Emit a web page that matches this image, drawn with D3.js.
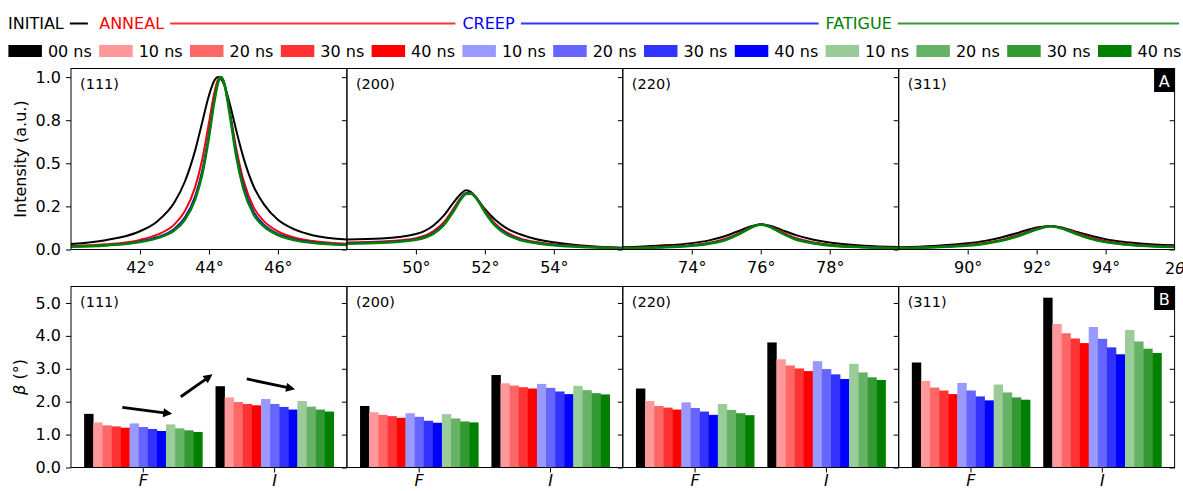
<!DOCTYPE html>
<html>
<head>
<meta charset="utf-8">
<script src="https://cdn.jsdelivr.net/npm/d3@7"></script>
<style>
body { margin: 0; background: #fff; }
svg { display: block; font-family: "DejaVu Sans", sans-serif; }
</style>
</head>
<body>
<svg id="chart" width="1183" height="491"></svg>
<script>
'use strict';

var groups = ['INITIAL', 'ANNEAL', 'CREEP', 'FATIGUE'];
var groupColors = ['#000000', '#ff0000', '#0000ff', '#008000'];
var headerLineColors = ['#000000', '#ff3333', '#3333ff', '#339933'];
var curveColors = ['#000000', '#ff0000', '#0000ff', '#008000'];
var durations = ['00 ns', '10 ns', '20 ns', '30 ns', '40 ns', '10 ns', '20 ns', '30 ns', '40 ns', '10 ns', '20 ns', '30 ns', '40 ns'];
var barColors = ['#000000', '#ff9999', '#ff6666', '#ff3333', '#ff0000', '#9999ff', '#6666ff', '#3333ff', '#0000ff', '#99cc99', '#66b366', '#339933', '#008000'];
var reflections = ['(111)', '(200)', '(220)', '(311)'];
var widthKinds = ['F', 'I'];

var angleDomains = [[40, 48], [48, 56], [72, 80], [88, 96]];
var angleTicks = [[42, 44, 46], [50, 52, 54], [74, 76, 78], [90, 92, 94]];
var intensityTicks = [0, 0.25, 0.5, 0.75, 1.0];
var intensityLabels = ['0.0', '0.2', '0.5', '0.8', '1.0'];
var betaTicks = [0, 1, 2, 3, 4, 5];

// peak profiles: initial, anneal, creep, fatigue
var angles111 = [40, 41, 42, 42.5, 43, 43.3, 43.6, 43.8, 44.0, 44.15, 44.27, 44.35, 44.45, 44.6, 44.8, 45.0, 45.3, 45.6, 46, 46.5, 47, 48];
var initial111 = [.032, .054, .106, .163, .274, .393, .575, .734, .893, .977, 1.0, .99, .95, .848, .684, .533, .364, .26, .172, .115, .083, .058];
var anneal111 = [.02, .03, .056, .086, .146, .222, .362, .518, .735, .903, .988, .999, .955, .806, .578, .403, .243, .163, .105, .068, .049, .033];
var creep111 = [.017, .025, .047, .071, .121, .185, .308, .452, .671, .862, .975, 1.0, .962, .80, .552, .372, .217, .142, .09, .058, .042, .028];
var fatigue111 = [.016, .024, .044, .066, .112, .173, .291, .432, .653, .852, .973, 1.0, .958, .787, .532, .353, .203, .133, .084, .054, .039, .026];

var angles200 = [48, 49, 50, 50.5, 50.8, 51.1, 51.3, 51.45, 51.6, 51.8, 52, 52.3, 52.6, 53, 53.5, 54, 55, 56];
var initial200 = [.058, .064, .09, .138, .195, .275, .322, .343, .333, .287, .235, .172, .127, .09, .06, .042, .02, .01];
var anneal200 = [.04, .046, .066, .105, .155, .24, .30, .327, .328, .29, .228, .15, .103, .066, .043, .03, .016, .007];
var creep200 = [.036, .042, .06, .095, .145, .23, .295, .326, .327, .286, .222, .142, .095, .06, .039, .027, .014, .006];
var fatigue200 = [.033, .039, .057, .091, .14, .225, .29, .322, .324, .283, .218, .138, .09, .057, .037, .025, .013, .006];

var angles220 = [72, 73, 74, 74.5, 75, 75.4, 75.7, 76, 76.3, 76.6, 77, 77.5, 78, 79, 80];
var initial220 = [.013, .022, .037, .053, .08, .11, .134, .145, .136, .114, .085, .058, .04, .022, .014];
var anneal220 = [.008, .014, .026, .039, .064, .098, .128, .145, .131, .103, .068, .042, .028, .015, .009];
var creep220 = [.007, .012, .023, .035, .059, .094, .127, .147, .13, .098, .062, .038, .025, .013, .008];
var fatigue220 = [.007, .012, .022, .034, .057, .092, .125, .145, .128, .096, .06, .037, .024, .013, .008];

var angles311 = [88, 89, 90, 90.5, 91, 91.5, 92, 92.4, 92.8, 93.2, 93.6, 94, 94.5, 95, 96];
var initial311 = [.013, .021, .036, .05, .071, .099, .128, .137, .124, .1, .078, .06, .045, .035, .024];
var anneal311 = [.009, .015, .027, .039, .057, .086, .12, .135, .121, .093, .068, .049, .035, .026, .017];
var creep311 = [.008, .013, .024, .035, .053, .082, .118, .137, .12, .089, .063, .045, .031, .023, .015];
var fatigue311 = [.008, .013, .023, .034, .052, .08, .116, .135, .118, .087, .061, .043, .03, .022, .015];

// beta values (deg) for F and I, 13 bars each
var betaF111 = [1.63, 1.37, 1.28, 1.25, 1.21, 1.34, 1.23, 1.17, 1.11, 1.31, 1.19, 1.13, 1.08];
var betaI111 = [2.47, 2.13, 1.99, 1.93, 1.89, 2.08, 1.93, 1.84, 1.76, 2.02, 1.85, 1.76, 1.70];
var betaF200 = [1.87, 1.68, 1.60, 1.56, 1.51, 1.65, 1.54, 1.42, 1.36, 1.62, 1.49, 1.40, 1.37];
var betaI200 = [2.81, 2.56, 2.49, 2.44, 2.40, 2.54, 2.42, 2.31, 2.23, 2.48, 2.35, 2.26, 2.22];
var betaF220 = [2.40, 2.02, 1.87, 1.82, 1.76, 1.98, 1.81, 1.70, 1.60, 1.93, 1.75, 1.65, 1.59];
var betaI220 = [3.80, 3.29, 3.10, 3.01, 2.93, 3.23, 2.99, 2.83, 2.69, 3.15, 2.89, 2.74, 2.66];
var betaF311 = [3.19, 2.63, 2.43, 2.34, 2.23, 2.57, 2.34, 2.16, 2.04, 2.52, 2.28, 2.13, 2.06];
var betaI311 = [5.16, 4.36, 4.08, 3.92, 3.78, 4.27, 3.91, 3.65, 3.44, 4.18, 3.83, 3.61, 3.48];

// arrows in the (111) bar panel: x as axes fraction, y in beta units
var arrowX = [[0.186, 0.367], [0.398, 0.513], [0.637, 0.812]];
var arrowY = [[1.83, 1.63], [2.15, 2.83], [2.69, 2.38]];

var peakAngles = [angles111, angles200, angles220, angles311];
var peakSeries = [
	[initial111, anneal111, creep111, fatigue111],
	[initial200, anneal200, creep200, fatigue200],
	[initial220, anneal220, creep220, fatigue220],
	[initial311, anneal311, creep311, fatigue311]
];
var betaF = [betaF111, betaF200, betaF220, betaF311];
var betaI = [betaI111, betaI200, betaI220, betaI311];

var svg = d3.select('#chart');
var left = 71, panelW = 275.9;
var topA = 68.5, botA = 249.5, topB = 286.5, botB = 467.5;

var yA = d3.scaleLinear().domain([0, 1.05]).range([botA, topA]);
var yB = d3.scaleLinear().domain([0, 5.5]).range([botB, topB]);

function styleAxis(g) {
	g.select('.domain').remove();
	g.selectAll('.tick line').attr('stroke', '#000').attr('stroke-width', 1);
	g.selectAll('.tick text').attr('font-size', 16).attr('fill', '#000')
		.attr('font-family', '"DejaVu Sans", sans-serif');
}

svg.append('defs').append('marker')
	.attr('id', 'head').attr('viewBox', '0 0 10 10')
	.attr('refX', 10).attr('refY', 5)
	.attr('markerWidth', 11).attr('markerHeight', 9)
	.attr('markerUnits', 'userSpaceOnUse').attr('orient', 'auto')
	.append('path').attr('d', 'M0,0L10,5L0,10Z').attr('fill', '#000');

reflections.forEach(function (refl, i) {
	var x0 = left + i * panelW;

	// panel A: peak profiles
	var gA = svg.append('g').attr('transform', 'translate(' + x0 + ',0)');
	var xA = d3.scaleLinear().domain(angleDomains[i]).range([0, panelW]);
	var line = d3.line()
		.x(function (d) { return xA(d[0]); })
		.y(function (d) { return yA(d[1]); })
		.curve(d3.curveMonotoneX);

	peakSeries[i].forEach(function (vals, k) {
		gA.append('path')
			.datum(d3.zip(peakAngles[i], vals))
			.attr('d', line)
			.attr('fill', 'none')
			.attr('stroke', curveColors[k])
			.attr('stroke-width', k === 3 ? 2.6 : 2);
	});

	gA.append('g').attr('transform', 'translate(0,' + botA + ')')
		.call(d3.axisBottom(xA).tickValues(angleTicks[i]).tickSize(5).tickPadding(7)
			.tickFormat(function (d) { return d + '°'; }))
		.call(styleAxis);
	gA.append('g').attr('transform', 'translate(' + panelW + ',0)')
		.call(d3.axisLeft(yA).tickValues(intensityTicks).tickSize(5).tickFormat(''))
		.call(styleAxis);
	if (i === 0) {
		gA.append('g')
			.call(d3.axisLeft(yA).tickValues(intensityTicks).tickSize(5).tickPadding(5)
				.tickFormat(function (d, j) { return intensityLabels[j]; }))
			.call(styleAxis);
	}
	gA.append('rect').attr('x', 0).attr('y', topA).attr('width', panelW).attr('height', botA - topA)
		.attr('fill', 'none').attr('stroke', '#000').attr('stroke-width', 1);
	gA.append('text').attr('x', 9).attr('y', topA + 20).attr('font-size', 14.5).text(refl);

	// panel B: beta bars
	var gB = svg.append('g').attr('transform', 'translate(' + x0 + ',0)');
	var xB = d3.scaleBand().domain(widthKinds).range([0, panelW]).paddingInner(0.1).paddingOuter(0.1);
	var xSub = d3.scaleBand().domain(d3.range(durations.length)).range([0, xB.bandwidth()]);
	var kindVals = [betaF[i], betaI[i]];

	widthKinds.forEach(function (kind, c) {
		gB.append('g').attr('transform', 'translate(' + xB(kind) + ',0)')
			.selectAll('rect').data(kindVals[c]).join('rect')
			.attr('x', function (d, j) { return xSub(j); })
			.attr('y', function (d) { return yB(d); })
			.attr('width', xSub.bandwidth() + 0.3)
			.attr('height', function (d) { return yB(0) - yB(d); })
			.attr('fill', function (d, j) { return barColors[j]; });
	});

	var xAxisB = gB.append('g').attr('transform', 'translate(0,' + botB + ')')
		.call(d3.axisBottom(xB).tickSize(5).tickPadding(2))
		.call(styleAxis);
	xAxisB.selectAll('.tick text').attr('font-style', 'italic');
	gB.append('g').attr('transform', 'translate(' + panelW + ',0)')
		.call(d3.axisLeft(yB).tickValues(betaTicks).tickSize(5).tickFormat(''))
		.call(styleAxis);
	if (i === 0) {
		gB.append('g')
			.call(d3.axisLeft(yB).tickValues(betaTicks).tickSize(5).tickPadding(5).tickFormat(d3.format('.1f')))
			.call(styleAxis);

		var xFrac = d3.scaleLinear().domain([0, 1]).range([0, panelW]);
		arrowX.forEach(function (ax, a) {
			var x1 = xFrac(ax[0]), y1 = yB(arrowY[a][0]);
			var x2 = xFrac(ax[1]), y2 = yB(arrowY[a][1]);
			var len = Math.hypot(x2 - x1, y2 - y1);
			var ex = x2 - (x2 - x1) / len * 6, ey = y2 - (y2 - y1) / len * 6;
			gB.append('line')
				.attr('x1', x1).attr('y1', y1).attr('x2', ex).attr('y2', ey)
				.attr('stroke', '#000').attr('stroke-width', 2.8);
			gB.append('line')
				.attr('x1', ex).attr('y1', ey).attr('x2', x2).attr('y2', y2)
				.attr('stroke', 'none').attr('marker-end', 'url(#head)');
		});
	}
	gB.append('rect').attr('x', 0).attr('y', topB).attr('width', panelW).attr('height', botB - topB)
		.attr('fill', 'none').attr('stroke', '#000').attr('stroke-width', 1);
	gB.append('text').attr('x', 9).attr('y', topB + 20).attr('font-size', 14.5).text(refl);
});

// y axis titles
svg.append('text')
	.attr('transform', 'translate(20,' + (topA + botA) / 2 + ') rotate(-90)')
	.attr('text-anchor', 'middle').attr('dominant-baseline', 'central')
	.attr('font-size', 16).text('Intensity (a.u.)');
var betaTitle = svg.append('text')
	.attr('transform', 'translate(19,' + (topB + botB) / 2 + ') rotate(-90)')
	.attr('text-anchor', 'middle').attr('dominant-baseline', 'central')
	.attr('font-size', 16);
betaTitle.append('tspan').attr('font-style', 'italic').text('β');
betaTitle.append('tspan').text(' (°)');

// 2θ label at the right end of the top axis
var thetaLabel = svg.append('text').attr('x', 1165).attr('y', 274).attr('font-size', 16);
thetaLabel.append('tspan').text('2');
thetaLabel.append('tspan').attr('font-style', 'italic').text('θ');

// panel badges
var right = left + 4 * panelW;
[['A', topA], ['B', topB]].forEach(function (b) {
	svg.append('rect').attr('x', right - 20.5).attr('y', b[1]).attr('width', 20.5).attr('height', 23.5).attr('fill', '#000');
	svg.append('text').attr('x', right - 10.25).attr('y', b[1] + 18).attr('text-anchor', 'middle')
		.attr('font-size', 16).attr('fill', '#fff').text(b[0]);
});

// legend
var legX = d3.scaleLinear().domain([0, durations.length]).range([8.4, 8.4 + 90.8 * durations.length]);
var legend = svg.append('g');
legend.selectAll('rect.sw').data(durations).join('rect')
	.attr('class', 'sw')
	.attr('x', function (d, j) { return legX(j); })
	.attr('y', 45).attr('width', 33.5).attr('height', 12)
	.attr('fill', function (d, j) { return barColors[j]; });
legend.selectAll('text.lab').data(durations).join('text')
	.attr('class', 'lab')
	.attr('x', function (d, j) { return legX(j) + 39.5; })
	.attr('y', 57).attr('font-size', 16).text(function (d) { return d; });

var groupStart = [0, 1, 5, 9];
var headers = groups.map(function (g, k) {
	var t = legend.append('text')
		.attr('x', k === 0 ? 8 : legX(groupStart[k]))
		.attr('y', 28.5).attr('font-size', 16)
		.attr('fill', groupColors[k]).text(g);
	return t.node();
});
headers.forEach(function (node, k) {
	var bb = node.getBBox();
	var x1 = bb.x + bb.width + 6;
	var x2 = k < headers.length - 1 ? headers[k + 1].getBBox().x - 7 : 1179;
	if (k === 0) x2 = x1 + 18;
	legend.append('line')
		.attr('x1', x1).attr('x2', x2).attr('y1', 23.5).attr('y2', 23.5)
		.attr('stroke', headerLineColors[k]).attr('stroke-width', 2);
});
</script>
</body>
</html>
